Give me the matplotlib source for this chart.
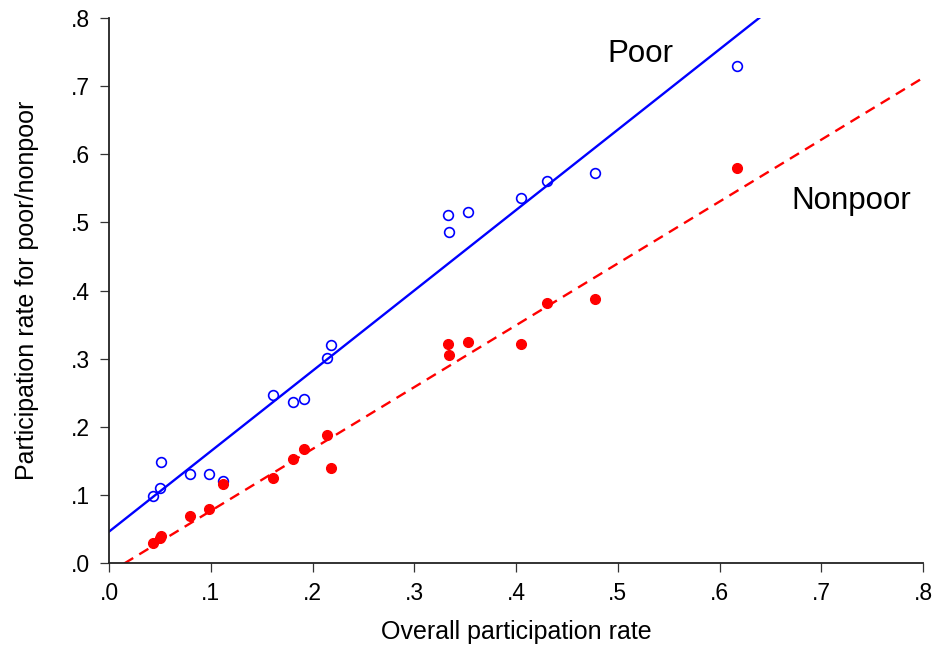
import numpy as np
import matplotlib
matplotlib.use("Agg")
import matplotlib.pyplot as plt

plt.rcParams['font.family'] = ['Liberation Sans', 'DejaVu Sans']

# overall participation rate and the rates for poor / nonpoor
overall = [0.0436, 0.050, 0.051, 0.080, 0.0985, 0.1117, 0.1615, 0.181, 0.1913,
           0.2139, 0.2185, 0.3332, 0.3341, 0.3531, 0.4049, 0.4302, 0.4776, 0.617]
poor = [0.099, 0.110, 0.148, 0.130, 0.131, 0.121, 0.246, 0.237, 0.241,
        0.301, 0.320, 0.511, 0.486, 0.515, 0.536, 0.560, 0.573, 0.729]
nonpoor = [0.029, 0.037, 0.040, 0.069, 0.079, 0.116, 0.125, 0.153, 0.167,
           0.188, 0.139, 0.321, 0.305, 0.325, 0.322, 0.382, 0.388, 0.580]

# fitted lines (intercept, slope)
poor_fit = (0.046, 1.18)
nonpoor_fit = (-0.0143, 0.908)

ticks = [0.0, 0.1, 0.2, 0.3, 0.4, 0.5, 0.6, 0.7, 0.8]
tick_labels = ['.0', '.1', '.2', '.3', '.4', '.5', '.6', '.7', '.8']

fig = plt.figure(figsize=(9.34, 6.47), dpi=100)
ax = fig.add_axes([109/934, 84/647, 814/934, 545/647])

xx = np.array([0.0, 0.8])
ax.plot(xx, poor_fit[0] + poor_fit[1]*xx, color='#0000ff', lw=1.7)
ax.plot(xx, nonpoor_fit[0] + nonpoor_fit[1]*xx, color='#ff0000', lw=1.7,
        dashes=(4.5, 3))

ax.plot(overall, poor, 'o', ls='none', mfc='none', mec='#0000ff', mew=1.2, ms=7)
ax.plot(overall, nonpoor, 'o', ls='none', mfc='#ff0000', mec='#ff0000', ms=7)

ax.text(0.4894, 0.7347, 'Poor', fontsize=22.5)
ax.text(0.671, 0.5196, 'Nonpoor', fontsize=22.5)

ax.set_xlim(0, 0.8)
ax.set_ylim(0, 0.8)
ax.set_xticks(ticks)
ax.set_xticklabels(tick_labels)
ax.set_yticks(ticks)
ax.set_yticklabels(tick_labels)
ax.tick_params(labelsize=16.5, length=6.5, width=0.9, color='#333333', pad=7)

for s in ['top', 'right']:
    ax.spines[s].set_visible(False)
for s in ['left', 'bottom']:
    ax.spines[s].set_linewidth(1.3)
    ax.spines[s].set_color('#222222')

ax.set_xlabel('Overall participation rate', fontsize=18, labelpad=11)
ax.set_ylabel('Participation rate for poor/nonpoor', fontsize=18, labelpad=23)

fig.savefig('out.png', dpi=100)
